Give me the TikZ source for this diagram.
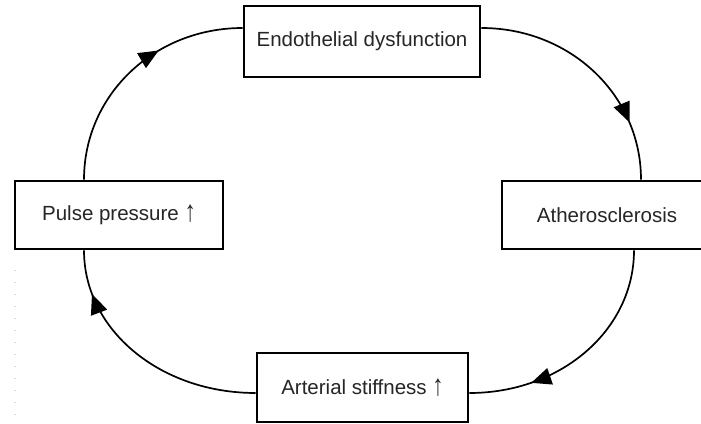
\documentclass[tikz,border=0pt]{standalone}
\usepackage{fontspec}
\setmainfont{Liberation Sans}
\usetikzlibrary{arrows.meta,decorations.markings}
\newcommand{\uparr}{\raisebox{-0.5pt}{\scalebox{1.1}[1.45]{↑}}}
\begin{document}
\begin{tikzpicture}[x=1pt,y=1pt,
  box/.style={draw=black, line width=2.8pt, fill=white, inner sep=0pt,
    font=\fontsize{20.5}{24}\selectfont, text=black!85},
  cyc/.style={line width=1.7pt, postaction={decorate},
    decoration={markings, mark=at position #1 with {\arrow{Triangle[length=20pt,width=17pt]}}}},
  faint/.style={gray!30, line width=1.2pt, dash pattern=on 1.2pt off 10.8pt}
]
\useasboundingbox (0,0) rectangle (701,423);
\clip (0,0) rectangle (701,423);
\fill[white] (0,0) rectangle (701,423);

\node[box, minimum width=236pt, minimum height=71pt] (endo) at (362,381.5) {Endothelial dysfunction};
\node[box, minimum width=210pt, minimum height=68pt] (ath) at (607,208) {Atherosclerosis};
\node[box, minimum width=208pt, minimum height=68pt] (pulse) at (119,208) {Pulse pressure \uparr};
\node[box, minimum width=211pt, minimum height=69pt] (art) at (362.5,35.5) {Arterial stiffness \uparr};

\draw[cyc=0.64] ([xshift=-35pt]pulse.north) to[out=90,in=180,out distance=84.5pt,in distance=88.4pt] ([yshift=13.5pt]endo.west);
\draw[cyc=0.76] ([yshift=13.5pt]endo.east) to[out=0,in=90,out distance=88.9pt,in distance=84.5pt] ([xshift=34pt]ath.north);
\draw[cyc=0.74] ([xshift=27pt]ath.south) to[out=-90,in=0,out distance=79.5pt,in distance=91.7pt] ([yshift=-5.5pt]art.east);
\draw[cyc=0.82] ([yshift=-5.5pt]art.west) to[out=180,in=-90,out distance=95.5pt,in distance=79.5pt] ([xshift=-35pt]pulse.south);

\coordinate (dtop) at (15,153);
\coordinate (dbot) at (15,0);
\draw[faint] (dtop) -- (dbot);
\end{tikzpicture}
\end{document}
